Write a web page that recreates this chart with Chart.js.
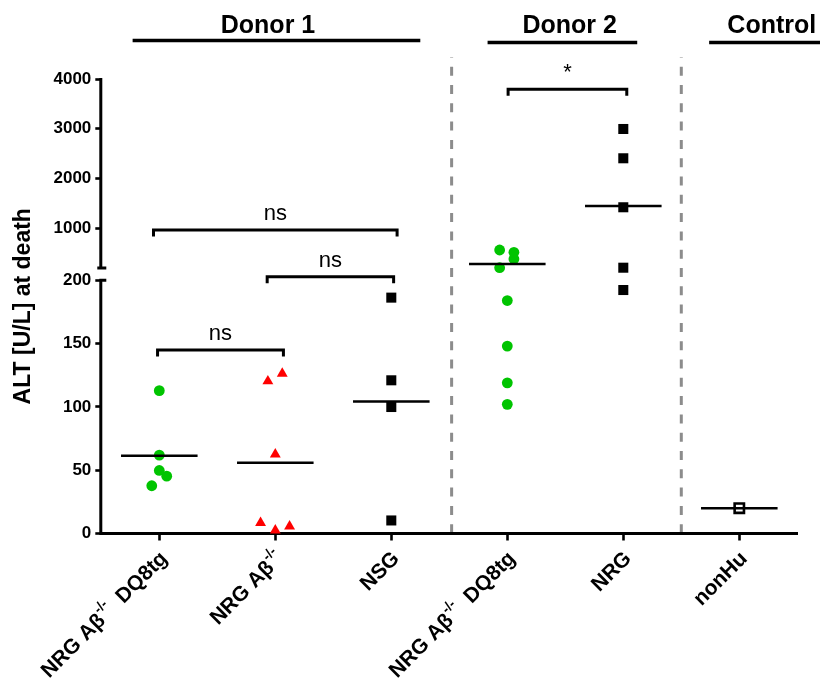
<!DOCTYPE html>
<html>
<head>
<meta charset="utf-8">
<script src="https://cdn.jsdelivr.net/npm/chart.js@4.4.1/dist/chart.umd.min.js"></script>
<style>
  html, body { margin: 0; padding: 0; background: #fff; }
  canvas { display: block; }
</style>
</head>
<body>
<canvas id="chart" width="820" height="684"></canvas>
<script>
// Column labels; text between ^ ^ is set as superscript
const categories = ['NRG Aβ^-/-^  DQ8tg', 'NRG Aβ^-/-^', 'NSG', 'NRG Aβ^-/-^  DQ8tg', 'NRG', 'nonHu'];

// ALT at death (U/L) per animal, and the sideways spread of each dot inside its column
const donor1Dq8Values = [112.8, 61.9, 49.8, 45.3, 37.7];
const donor1Dq8Spread = [0, 0, 0, 0.064, -0.065];
const donor1AbValues = [120.3, 126.3, 62.6, 8.5, 2.5, 5.7];
const donor1AbSpread = [-0.064, 0.06, 0, -0.127, 0, 0.123];
const donor1NsgValues = [186.3, 121, 99.9, 10.3];
const donor1NsgSpread = [0, 0, 0, 0];
const donor2Dq8Values = [562, 516, 381, 206, 184, 148, 119, 102];
const donor2Dq8Spread = [-0.066, 0.057, 0.057, -0.066, 0, 0, 0, 0];
const donor2NrgValues = [2995, 2406, 1421, 206, 192.3];
const donor2NrgSpread = [0, 0, 0, 0, 0];
const nonHuValues = [20];
const nonHuSpread = [0];

// Group means, drawn as short horizontal bars
const groupMeans = [61.4, 55.9, 104.3, 280, 1447, 20];

// Broken y axis: lower segment 0-200, upper segment 200-4000
const axisBreak = 200;
const lowTicks = [0, 50, 100, 150, 200];
const highTicks = [1000, 2000, 3000, 4000];

// Statistical comparisons
const brackets = [
  { from: -0.05, to: 2.05, y: 964, axis: 'high', text: 'ns' },
  { from: 0.93, to: 2.02, y: 202.8, axis: 'low', text: 'ns' },
  { from: -0.015, to: 1.07, y: 144.9, axis: 'low', text: 'ns' },
  { from: 3.007, to: 4.03, y: 3793, axis: 'high', text: '*' }
];

// Donor group headings
const groupNames = ['Donor 1', 'Donor 2', 'Control'];
const groupTextAt = [0.937, 3.538, 5.28];
const groupSpans = [[-0.23, 2.25], [2.83, 4.12], [4.74, 5.75]];
const groupSeparators = [2.52, 4.5];

const FONT = '"Liberation Sans", Arial, Helvetica, sans-serif';
const GREEN = 'rgb(0,196,0)';
Chart.defaults.font.family = FONT;

const groups = [
  { values: donor1Dq8Values, spread: donor1Dq8Spread, style: 'circle', color: GREEN },
  { values: donor1AbValues, spread: donor1AbSpread, style: 'triangle', color: '#ff0000' },
  { values: donor1NsgValues, spread: donor1NsgSpread, style: 'rect', color: '#000' },
  { values: donor2Dq8Values, spread: donor2Dq8Spread, style: 'circle', color: GREEN },
  { values: donor2NrgValues, spread: donor2NrgSpread, style: 'rect', color: '#000' },
  { values: nonHuValues, spread: nonHuSpread, style: 'rect', color: '#000', open: true }
];

const radiusFor = { circle: 5.4, triangle: 6.3, rect: 7.1 };

const datasets = [];
groups.forEach((g, cat) => {
  ['yLow', 'yHigh'].forEach(axisId => {
    const pts = g.values
      .map((v, i) => ({ x: cat + g.spread[i], y: v }))
      .filter(p => axisId === 'yHigh' ? p.y > axisBreak : p.y <= axisBreak);
    if (!pts.length) return;
    datasets.push({
      data: pts,
      yAxisID: axisId,
      pointStyle: g.style,
      pointRadius: g.open ? 6.6 : radiusFor[g.style],
      backgroundColor: g.open ? '#fff' : g.color,
      borderColor: g.color,
      borderWidth: g.open ? 2.6 : 0,
      clip: false,
      order: 1
    });
  });
});

// mean bars
groupMeans.forEach((m, cat) => {
  datasets.push({
    data: [{ x: cat - 0.33, y: m }, { x: cat + 0.33, y: m }],
    yAxisID: m > axisBreak ? 'yHigh' : 'yLow',
    showLine: true,
    pointRadius: 0,
    borderColor: '#000',
    borderWidth: 2.6,
    clip: false,
    order: 0
  });
});

function labelParts(s) {
  return s.split('^').map((t, i) => ({ t, sup: i % 2 === 1 })).filter(p => p.t.length);
}

const decorations = {
  id: 'decorations',
  beforeDatasetsDraw(chart) {
    const { ctx, chartArea: a, scales: { x, yLow, yHigh } } = chart;
    ctx.save();
    // dashed separators between donor groups
    ctx.strokeStyle = '#8c8c8c';
    ctx.lineWidth = 3;
    ctx.setLineDash([9, 9.3]);
    ctx.lineDashOffset = 8.6;
    groupSeparators.forEach(v => {
      const px = x.getPixelForValue(v);
      ctx.beginPath();
      ctx.moveTo(px, 57);
      ctx.lineTo(px, a.bottom - 1.5);
      ctx.stroke();
    });
    ctx.setLineDash([]);
    // y axis line, interrupted at the break
    ctx.strokeStyle = '#000';
    ctx.lineWidth = 3;
    const ax = a.left - 0.5;
    const hiBottom = yHigh.getPixelForValue(axisBreak);
    const loTop = yLow.getPixelForValue(axisBreak);
    ctx.beginPath();
    ctx.moveTo(ax, yHigh.getPixelForValue(highTicks[highTicks.length - 1]) - 1);
    ctx.lineTo(ax, hiBottom);
    ctx.moveTo(ax - 3.5, hiBottom);
    ctx.lineTo(ax + 5.5, hiBottom);
    ctx.moveTo(ax, loTop - 1.5);
    ctx.lineTo(ax, a.bottom + 1.5);
    ctx.moveTo(ax, loTop);
    ctx.lineTo(ax + 5.5, loTop);
    ctx.stroke();
    ctx.restore();
  },
  afterDraw(chart) {
    const { ctx, chartArea: a, scales: { x, yLow, yHigh } } = chart;
    ctx.save();
    ctx.fillStyle = '#000';
    ctx.strokeStyle = '#000';

    // comparison brackets
    ctx.lineWidth = 3;
    ctx.lineJoin = 'miter';
    brackets.forEach(b => {
      const s = b.axis === 'high' ? yHigh : yLow;
      const y = s.getPixelForValue(b.y);
      const x1 = x.getPixelForValue(b.from);
      const x2 = x.getPixelForValue(b.to);
      ctx.beginPath();
      ctx.moveTo(x1, y + 6.5);
      ctx.lineTo(x1, y);
      ctx.lineTo(x2, y);
      ctx.lineTo(x2, y + 6.5);
      ctx.stroke();
      ctx.font = '22px ' + FONT;
      ctx.textAlign = 'center';
      ctx.textBaseline = 'alphabetic';
      ctx.fillText(b.text, (x1 + x2) / 2, y - 10);
    });

    // group headings
    groupNames.forEach((name, i) => {
      ctx.font = 'bold 25px ' + FONT;
      ctx.textAlign = 'center';
      ctx.textBaseline = 'alphabetic';
      ctx.fillText(name, x.getPixelForValue(groupTextAt[i]), 33);
      const ly = i === 0 ? 40.5 : 42.5;
      ctx.lineWidth = 3.6;
      ctx.beginPath();
      ctx.moveTo(x.getPixelForValue(groupSpans[i][0]), ly);
      ctx.lineTo(x.getPixelForValue(groupSpans[i][1]), ly);
      ctx.stroke();
    });

    // y axis title
    ctx.save();
    ctx.translate(24, (yHigh.top + a.bottom) / 2);
    ctx.rotate(-Math.PI / 2);
    ctx.font = 'bold 23px ' + FONT;
    ctx.textAlign = 'center';
    ctx.textBaseline = 'middle';
    ctx.fillText('ALT [U/L] at death', 0, 0);
    ctx.restore();

    // rotated column labels
    categories.forEach((lab, i) => {
      const parts = labelParts(lab);
      const fonts = parts.map(p => p.sup ? 'bold 14px ' + FONT : 'bold 21px ' + FONT);
      const widths = parts.map((p, k) => { ctx.font = fonts[k]; return ctx.measureText(p.t).width; });
      const total = widths.reduce((s, w) => s + w, 0);
      ctx.save();
      ctx.translate(x.getPixelForValue(i) + 5, a.bottom + 22);
      ctx.rotate(-Math.PI / 4);
      ctx.textAlign = 'left';
      ctx.textBaseline = 'middle';
      let cx = -total;
      parts.forEach((p, k) => {
        ctx.font = fonts[k];
        ctx.fillText(p.t, cx, p.sup ? -8.5 : 0);
        cx += widths[k];
      });
      ctx.restore();
    });
    ctx.restore();
  }
};

const tickFont = { family: FONT, size: 17, weight: 'bold' };

new Chart(document.getElementById('chart'), {
  type: 'scatter',
  data: { datasets },
  options: {
    responsive: false,
    animation: false,
    events: [],
    layout: { padding: { top: 79, right: 22.7, bottom: 0, left: 0 } },
    plugins: { legend: { display: false }, tooltip: { enabled: false } },
    scales: {
      x: {
        type: 'linear',
        min: -0.5,
        max: 5.5,
        afterBuildTicks: s => { s.ticks = categories.map((_, i) => ({ value: i })); },
        afterFit: s => { s.height = 684 - 533.5; },
        ticks: { display: false },
        grid: { drawOnChartArea: false, drawTicks: true, tickLength: 7, tickWidth: 2.6, tickColor: '#000' },
        border: { display: true, color: '#000', width: 3 }
      },
      yLow: {
        type: 'linear',
        position: 'left',
        stack: 'alt',
        stackWeight: 265.5,
        min: 0,
        max: 209.7,
        afterBuildTicks: s => { s.ticks = lowTicks.map(v => ({ value: v })); },
        afterFit: s => { s.width = 101.3; },
        ticks: { font: tickFont, color: '#000', padding: 4, callback: v => String(v) },
        grid: { drawOnChartArea: false, tickLength: 6, tickWidth: 2.6, tickColor: '#000' },
        border: { display: false }
      },
      yHigh: {
        type: 'linear',
        position: 'left',
        stack: 'alt',
        stackWeight: 189,
        min: axisBreak,
        max: 4000,
        afterBuildTicks: s => { s.ticks = highTicks.map(v => ({ value: v })); },
        afterFit: s => { s.width = 101.3; },
        ticks: { font: tickFont, color: '#000', padding: 4, callback: v => String(v) },
        grid: { drawOnChartArea: false, tickLength: 6, tickWidth: 2.6, tickColor: '#000' },
        border: { display: false }
      }
    }
  },
  plugins: [decorations]
});
</script>
</body>
</html>
